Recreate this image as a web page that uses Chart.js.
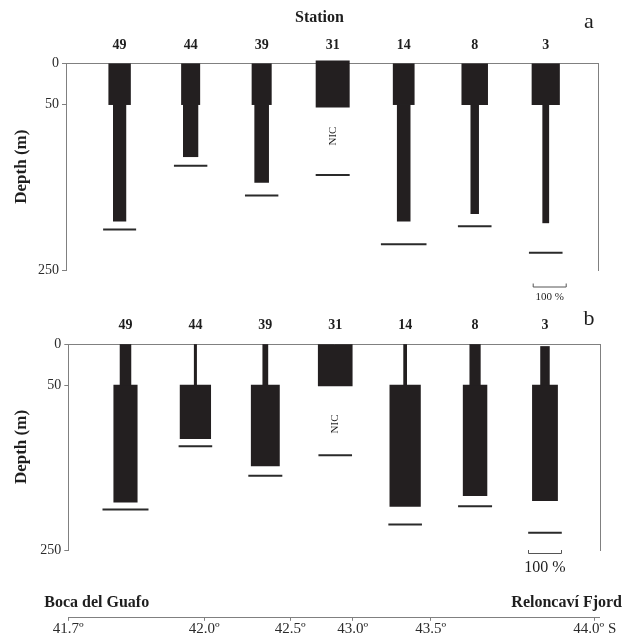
<!DOCTYPE html>
<html>
<head>
<meta charset="utf-8">
<script src="https://cdn.jsdelivr.net/npm/chart.js@4.4.1/dist/chart.umd.min.js"></script>
<style>
  html, body { margin: 0; padding: 0; background: #fff; }
  #wrap { position: relative; width: 628px; height: 639px; }
  canvas { position: absolute; left: 0; }
</style>
</head>
<body>
<div id="wrap">
  <canvas id="chartA" width="628" height="300" style="top:0"></canvas>
  <canvas id="chartB" width="628" height="290" style="top:300px"></canvas>
  <canvas id="chartLat" width="628" height="49" style="top:590px"></canvas>
</div>
<script>
// stations from Boca del Guafo (left) to Reloncaví Fjord (right)
const stations = ['49', '44', '39', '31', '14', '8', '3'];
const bottomDepth = [201, 124, 160, 135, 219, 197, 229];
const depthTicks = [0, 50, 250];

// panel a : width of each bar = % in the layer
const surfaceTopA = [0, 0, 0, -3, 0, 0, 0];
const surfaceEndA = [50, 50, 50, 53, 50, 50, 50];
const surfacePctA = [64, 54, 57, 98, 62, 76, 81];
const deepEndA = [191, 113, 144, null, 191, 182, 193];
const deepPctA = [37, 43, 41, null, 38, 23, 18];

// panel b
const surfaceTopB = [0, 0, 0, 0, 0, 0, 3];
const surfaceEndB = [50, 50, 50, 51, 50, 50, 50];
const surfacePctB = [32, 7, 15, 100, 9, 31, 26];
const deepEndB = [192, 115, 148, null, 197, 184, 190];
const deepPctB = [69, 90, 83, null, 90, 70, 74];

// latitude axis (schematic, not linear)
const latLabels = ['41.7º', '42.0º', '42.5º', '43.0º', '43.5º', '44.0º S'];
const latPos = [0, 0.256, 0.418, 0.536, 0.683, 0.992];

const FONT = "'Liberation Serif', 'Times New Roman', serif";
const BAR = '#231f20';
const LINE = '#2a2a2a';
const AXIS = '#808080';
const TXT = '#1e1e1e';
const PX_PER_PCT = 0.34;

Chart.defaults.font.family = FONT;

function buildDatasets(surfTop, surfEnd, surfPct, deepEnd, deepPct, lineHalf) {
    const sets = [];
    stations.forEach((s, i) => {
        sets.push({
            data: [{ x: i + 1, y: [surfTop[i], surfEnd[i]] }],
            backgroundColor: BAR, borderWidth: 0, grouped: false, clip: false,
            barThickness: surfPct[i] * PX_PER_PCT
        });
        if (deepEnd[i] !== null) {
            sets.push({
                data: [{ x: i + 1, y: [50, deepEnd[i]] }],
                backgroundColor: BAR, borderWidth: 0, grouped: false, clip: false,
                barThickness: deepPct[i] * PX_PER_PCT
            });
        }
    });
    // bottom depth of each station
    sets.push({
        type: 'line',
        data: stations.map((s, i) => ({ x: i + 1, y: bottomDepth[i] })),
        showLine: false,
        pointStyle: 'line',
        pointRadius: lineHalf,
        pointHoverRadius: lineHalf,
        pointBorderWidth: 2,
        pointBorderColor: LINE,
        pointBackgroundColor: LINE,
        clip: false
    });
    return sets;
}

const notesPlugin = {
    id: 'notes',
    afterDraw(chart, args, o) {
        const ctx = chart.ctx;
        ctx.save();
        ctx.fillStyle = TXT;
        ctx.textBaseline = 'alphabetic';
        (o.texts || []).forEach(t => {
            ctx.font = t.font;
            ctx.textAlign = t.align;
            ctx.fillText(t.text, t.x, t.y);
        });
        if (o.nicDepth) {
            const x = chart.scales.x.getPixelForValue(4);
            const y = chart.scales.y.getPixelForValue(o.nicDepth);
            ctx.translate(x, y);
            ctx.rotate(-Math.PI / 2);
            ctx.font = '11px ' + FONT;
            ctx.textAlign = 'center';
            ctx.textBaseline = 'middle';
            ctx.fillText('NIC', 0, 0);
            ctx.setTransform(1, 0, 0, 1, 0, 0);
        }
        if (o.scaleBar) {
            const b = o.scaleBar;
            const w = 100 * PX_PER_PCT;
            ctx.strokeStyle = '#555';
            ctx.lineWidth = 1;
            ctx.beginPath();
            ctx.moveTo(b.x + 0.5, b.y - 3);
            ctx.lineTo(b.x + 0.5, b.y + 0.5);
            ctx.lineTo(b.x + w - 0.5, b.y + 0.5);
            ctx.lineTo(b.x + w - 0.5, b.y - 3);
            ctx.stroke();
            ctx.font = b.size + 'px ' + FONT;
            ctx.textAlign = 'center';
            ctx.textBaseline = 'middle';
            ctx.fillText('100 %', b.x + w / 2, b.labelY);
        }
        ctx.restore();
    }
};

function panelChart(id, cfg) {
    return new Chart(document.getElementById(id), {
        type: 'bar',
        data: { datasets: cfg.datasets },
        options: {
            responsive: false,
            animation: false,
            devicePixelRatio: 1,
            layout: { padding: { left: 0, right: 0, top: 0, bottom: cfg.padBottom } },
            plugins: {
                legend: { display: false },
                tooltip: { enabled: false },
                notes: cfg.notes
            },
            scales: {
                x: {
                    type: 'linear', position: 'top', min: cfg.xMin, max: cfg.xMax, offset: false,
                    grid: { display: false, offset: false },
                    border: { display: true, color: AXIS, width: 1 },
                    afterBuildTicks: s => { s.ticks = stations.map((n, i) => ({ value: i + 1 })); },
                    ticks: {
                        autoSkip: false, maxRotation: 0, padding: 2, color: TXT,
                        font: { family: FONT, size: 14, weight: 'bold' },
                        callback: (v, i) => stations[i]
                    },
                    afterFit: s => { s.height = cfg.top; }
                },
                y: {
                    type: 'linear', position: 'left', reverse: true, min: 0, max: 250,
                    grid: { drawOnChartArea: false, drawTicks: true, tickLength: 4, color: AXIS },
                    border: { display: true, color: AXIS, width: 1 },
                    afterBuildTicks: s => { s.ticks = depthTicks.map(v => ({ value: v })); },
                    ticks: { padding: 3, color: '#2b2b2b', font: { family: FONT, size: 14 } },
                    title: {
                        display: true, text: 'Depth (m)', color: TXT,
                        font: { family: FONT, size: 17, weight: 'bold' },
                        padding: { top: 11, bottom: 0 }
                    },
                    afterFit: s => { s.width = cfg.left; }
                },
                yr: {
                    type: 'linear', position: 'right', display: true, min: 0, max: 250,
                    grid: { display: false },
                    border: { display: true, color: AXIS, width: 1 },
                    ticks: { display: false },
                    afterFit: s => { s.width = cfg.right; }
                }
            }
        },
        plugins: [notesPlugin]
    });
}

panelChart('chartA', {
    datasets: buildDatasets(surfaceTopA, surfaceEndA, surfacePctA, deepEndA, deepPctA,
        [16.5, 16.7, 16.7, 17, 22.8, 16.8, 16.8]),
    xMin: 0.245, xMax: 7.74, top: 63.3, left: 66, right: 29.7, padBottom: 30,
    notes: {
        texts: [
            { text: 'Station', x: 319.5, y: 21.5, align: 'center', font: 'bold 16px ' + FONT },
            { text: 'a', x: 589, y: 28.3, align: 'center', font: '22px ' + FONT }
        ],
        nicDepth: 88,
        scaleBar: { x: 532.7, y: 286.5, labelY: 297, size: 11 }
    }
});

panelChart('chartB', {
    datasets: buildDatasets(surfaceTopB, surfaceEndB, surfacePctB, deepEndB, deepPctB,
        [23, 16.8, 17, 16.8, 16.8, 17, 16.8]),
    xMin: 0.182, xMax: 7.797, top: 44, left: 68.3, right: 27.3, padBottom: 40,
    notes: {
        texts: [
            { text: 'b', x: 589, y: 25, align: 'center', font: '22px ' + FONT }
        ],
        nicDepth: 97,
        scaleBar: { x: 528, y: 253, labelY: 268, size: 16 }
    }
});

new Chart(document.getElementById('chartLat'), {
    type: 'bar',
    data: { datasets: [] },
    options: {
        responsive: false,
        animation: false,
        devicePixelRatio: 1,
        layout: { padding: { left: 68.3, right: 29, top: 0, bottom: 0 } },
        plugins: {
            legend: { display: false },
            tooltip: { enabled: false },
            notes: {
                texts: [
                    { text: 'Boca del Guafo', x: 44.3, y: 16.7, align: 'left', font: 'bold 16px ' + FONT },
                    { text: 'Reloncaví Fjord', x: 622, y: 16.7, align: 'right', font: 'bold 16px ' + FONT }
                ]
            }
        },
        scales: {
            x: {
                type: 'linear', position: 'bottom', min: 0, max: 1, offset: false,
                grid: { drawOnChartArea: false, drawTicks: true, tickLength: 3.5, color: AXIS, offset: false },
                border: { display: true, color: AXIS, width: 1 },
                afterBuildTicks: s => { s.ticks = latPos.map(v => ({ value: v })); },
                ticks: {
                    autoSkip: false, maxRotation: 0, padding: -1, color: '#2b2b2b',
                    font: { family: FONT, size: 15 },
                    callback: (v, i) => latLabels[i]
                },
                afterFit: s => { s.height = 21.7; }
            },
            y: { display: false, min: 0, max: 1 }
        }
    },
    plugins: [notesPlugin]
});
</script>
</body>
</html>
